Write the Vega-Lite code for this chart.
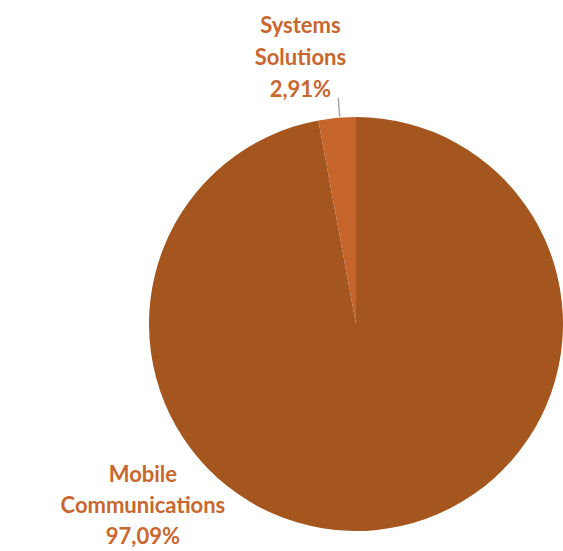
{
  "$schema": "https://vega.github.io/schema/vega-lite/v6.json",
  "width": 414,
  "height": 414,
  "autosize": "none",
  "padding": {"left": 149, "top": 117, "right": 0, "bottom": 20},
  "background": "white",
  "config": {"view": {"stroke": null}},
  "data": {
    "values": [
      {"segment": "Mobile Communications", "share": 97.09, "label": ["Mobile", "Communications", "97,09%"]},
      {"segment": "Systems Solutions", "share": 2.91, "label": ["Systems", "Solutions", "2,91%"]}
    ]
  },
  "encoding": {
    "theta": {"field": "share", "type": "quantitative", "stack": true},
    "color": {
      "field": "segment",
      "type": "nominal",
      "scale": {"domain": ["Mobile Communications", "Systems Solutions"], "range": ["#A5561F", "#C5652B"]},
      "legend": null
    }
  },
  "layer": [
    {"mark": {"type": "arc", "outerRadius": 207}},
    {
      "transform": [{"filter": "datum.segment === 'Systems Solutions'"}],
      "mark": {"type": "arc", "stroke": "#A6A6A6", "strokeWidth": 1.5, "fillOpacity": 0},
      "encoding": {
        "theta": {"value": 6.205},
        "theta2": {"value": 6.205},
        "radius": {"value": 208},
        "radius2": {"value": 227},
        "color": {"value": "#A6A6A6"}
      }
    },
    {
      "transform": [{"filter": "datum.segment === 'Systems Solutions'"}],
      "mark": {"type": "text", "radius": 267, "dx": -80, "dy": -32, "font": "Lato", "fontWeight": "bold", "fontSize": 22, "lineHeight": 32, "align": "center", "baseline": "middle", "color": "#C8672E"},
      "encoding": {"text": {"field": "label"}, "color": {"value": "#C8672E"}}
    },
    {
      "transform": [{"filter": "datum.segment === 'Mobile Communications'"}],
      "mark": {"type": "text", "radius": 207, "dx": -232, "dy": -55, "font": "Lato", "fontWeight": "bold", "fontSize": 22, "lineHeight": 31, "align": "center", "baseline": "middle", "color": "#C8672E"},
      "encoding": {"text": {"field": "label"}, "color": {"value": "#C8672E"}}
    }
  ]
}
